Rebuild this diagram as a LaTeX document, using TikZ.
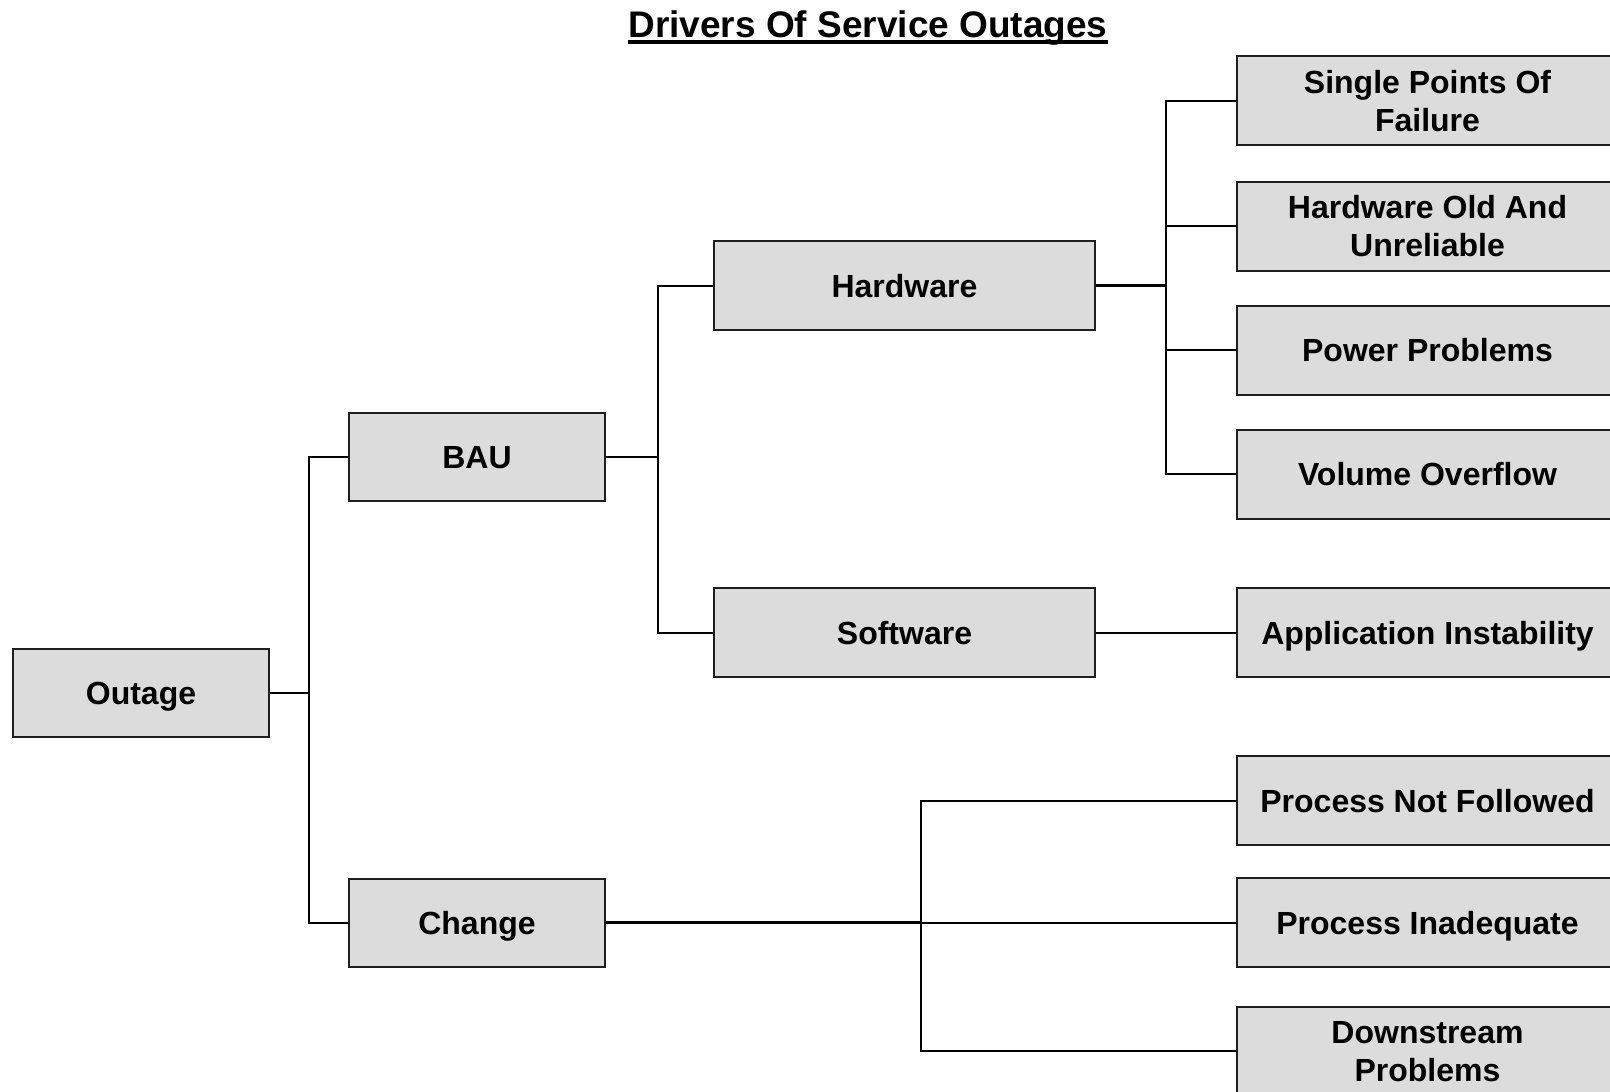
\documentclass[tikz,border=0pt]{standalone}
\usepackage{fontspec}
\setmainfont{Liberation Sans}
\definecolor{boxfill}{HTML}{DCDCDC}
\definecolor{boxline}{HTML}{1E1E1E}
\begin{document}
\begin{tikzpicture}[x=1pt,y=-1pt,
  box/.style={draw=boxline,line width=2pt,fill=boxfill,inner sep=0pt,
    minimum width=256pt,minimum height=88pt,align=center,text depth=-5pt,
    font=\bfseries\fontsize{32}{38}\selectfont},
  widebox/.style={box,minimum width=381pt,minimum height=89pt},
  link/.style={draw=black,line width=2pt},
  trunk/.style={draw=black,line width=3pt}]
\path[use as bounding box] (0,0) rectangle (1610,1092);
\clip (0,0) rectangle (1610,1092);

% title
\node[anchor=base,inner sep=0pt,font=\bfseries\fontsize{37}{44}\selectfont]
  (title) at (868,37) {Drivers Of Service Outages};
\draw[line width=3.5pt] ([yshift=-5pt]title.base west) -- ([yshift=-5pt]title.base east);

% tree levels
\node[box] (out) at (141,693) {Outage};
\node[box] (bau) at (477,457) {BAU};
\node[box] (chg) at (477,922.5) {Change};
\node[widebox] (hw) at (904.5,285.5) {Hardware};
\node[widebox] (sw) at (904.5,632.5) {Software};

\node[widebox] (spof) at (1427.5,100.5) {Single Points Of\\Failure};
\node[widebox] (old)  at (1427.5,226) {Hardware Old And\\Unreliable};
\node[widebox] (pwr)  at (1427.5,350) {Power Problems};
\node[widebox] (vol)  at (1427.5,474) {Volume Overflow};
\node[widebox] (app)  at (1427.5,632.5) {Application Instability};
\node[widebox] (pnf)  at (1427.5,800.5) {Process Not Followed};
\node[widebox] (pin)  at (1427.5,922.5) {Process Inadequate};
\node[widebox] (dsp)  at (1427.5,1051) {Downstream\\Problems};

% bus points
\coordinate (b1) at (309,693);
\coordinate (b2) at (658,457);
\coordinate (b3) at (1166,285.5);
\coordinate (b4) at (921,922.5);

% connectors
\draw[link] (out.east) -- (b1);
\draw[link] (bau.west) -| (b1) |- (chg.west);

\draw[link] (bau.east) -- (b2);
\draw[link] (hw.west) -| (b2) |- (sw.west);

\draw[trunk] (hw.east) -- (b3);
\draw[link] (spof.west) -| (b3) |- (vol.west);
\draw[link] (old.west) -| (b3);
\draw[link] (pwr.west) -| (b3);

\draw[link] (sw.east) -- (app.west);

\draw[trunk] (chg.east) -- (b4);
\draw[link] (b4) -- (pin.west);
\draw[link] (pnf.west) -| (b4) |- (dsp.west);
\end{tikzpicture}
\end{document}
